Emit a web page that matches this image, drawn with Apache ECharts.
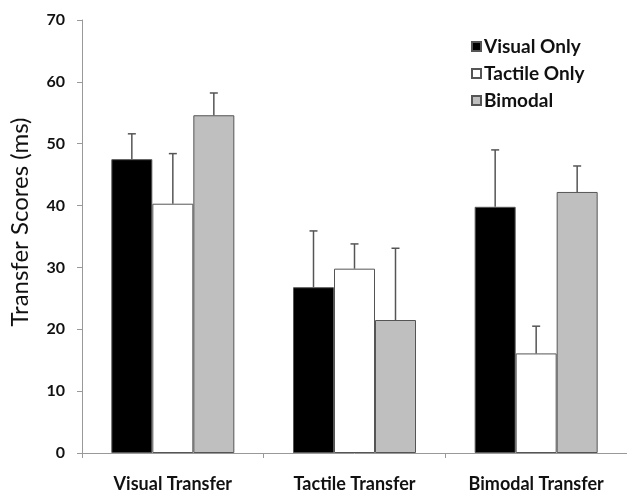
<!DOCTYPE html>
<html>
<head>
    <meta charset="utf-8">
    <title>Transfer Scores</title>
    <script src="https://cdn.jsdelivr.net/npm/echarts@6/dist/echarts.min.js"></script>
    <style>
        html, body { margin: 0; padding: 0; background: #fff; }
        #main { width: 627px; height: 494px; }
    </style>
</head>
<body>
    <div id="main"></div>
    <script type="text/javascript">
        // data
        var categories = ['Visual Transfer', 'Tactile Transfer', 'Bimodal Transfer'];
        var seriesNames = ['Visual Only', 'Tactile Only', 'Bimodal'];
        var visualOnly = [47.5, 26.8, 39.8];
        var tactileOnly = [40.3, 29.8, 16.1];
        var bimodal = [54.6, 21.5, 42.2];
        // top of the error whisker (mean + error)
        var visualOnlyErr = [51.6, 35.9, 49.0];
        var tactileOnlyErr = [48.4, 33.8, 20.5];
        var bimodalErr = [58.2, 33.1, 46.4];
        var yTicks = [0, 10, 20, 30, 40, 50, 60, 70];

        var means = [visualOnly, tactileOnly, bimodal];
        var errs = [visualOnlyErr, tactileOnlyErr, bimodalErr];
        var colors = ['#000000', '#ffffff', '#bfbfbf'];
        var barW = 41;
        var font = 'Lato';

        var errData = [];
        for (var s = 0; s < 3; s++) {
            for (var c = 0; c < 3; c++) {
                errData.push([c, s, means[s][c], errs[s][c]]);
            }
        }

        var myChart = echarts.init(document.getElementById('main'));

        var series = seriesNames.map(function (name, i) {
            return {
                name: name,
                type: 'bar',
                data: means[i],
                barWidth: barW,
                barGap: '0%',
                itemStyle: { color: colors[i], borderColor: '#555', borderWidth: 1 },
                z: 2
            };
        });

        series.push({
            type: 'custom',
            name: 'err',
            data: errData,
            z: 3,
            renderItem: function (params, api) {
                var c = api.value(0), s = api.value(1);
                var base = api.coord([c, api.value(2)]);
                var top = api.coord([c, api.value(3)]);
                var x = base[0] + (s - 1) * barW;
                var style = { stroke: '#555', lineWidth: 1.5 };
                return {
                    type: 'group',
                    children: [
                        { type: 'line', shape: { x1: x, y1: base[1], x2: x, y2: top[1] }, style: style },
                        { type: 'line', shape: { x1: x - 4, y1: top[1], x2: x + 4, y2: top[1] }, style: style }
                    ]
                };
            }
        });

        var option = {
            backgroundColor: '#fff',
            animation: false,
            textStyle: { fontFamily: font },
            grid: { left: 82, right: 0, top: 20, bottom: 41 },
            legend: {
                data: seriesNames,
                orient: 'vertical',
                left: 466,
                top: 32,
                itemWidth: 9,
                itemHeight: 9,
                itemGap: 8,
                icon: 'rect',
                textStyle: { fontFamily: font, fontWeight: 'bold', fontSize: 19, color: '#111', padding: [0, 0, 0, -2] }
            },
            graphic: [{
                type: 'text',
                x: 20,
                y: 222,
                rotation: Math.PI / 2,
                style: {
                    text: 'Transfer Scores (ms)',
                    fontFamily: font,
                    fontSize: 24,
                    fill: '#111',
                    textAlign: 'center',
                    textVerticalAlign: 'middle'
                }
            }],
            xAxis: {
                type: 'category',
                data: categories,
                axisLine: { lineStyle: { color: '#999', width: 1 } },
                axisTick: { show: true, length: 5, lineStyle: { color: '#999' } },
                axisLabel: { interval: 0, hideOverlap: false, margin: 22, fontFamily: font, fontWeight: 'bold', fontSize: 18, color: '#111' }
            },
            yAxis: {
                type: 'value',
                min: 0,
                max: yTicks[yTicks.length - 1],
                interval: yTicks[1] - yTicks[0],
                splitLine: { show: false },
                axisLine: { show: true, lineStyle: { color: '#999', width: 1 } },
                axisTick: { show: true, length: 5, lineStyle: { color: '#999' } },
                axisLabel: { margin: 17, fontFamily: font, fontWeight: 'bold', fontSize: 16, color: '#111' }
            },
            series: series
        };
        myChart.setOption(option);
    </script>
</body>
</html>
